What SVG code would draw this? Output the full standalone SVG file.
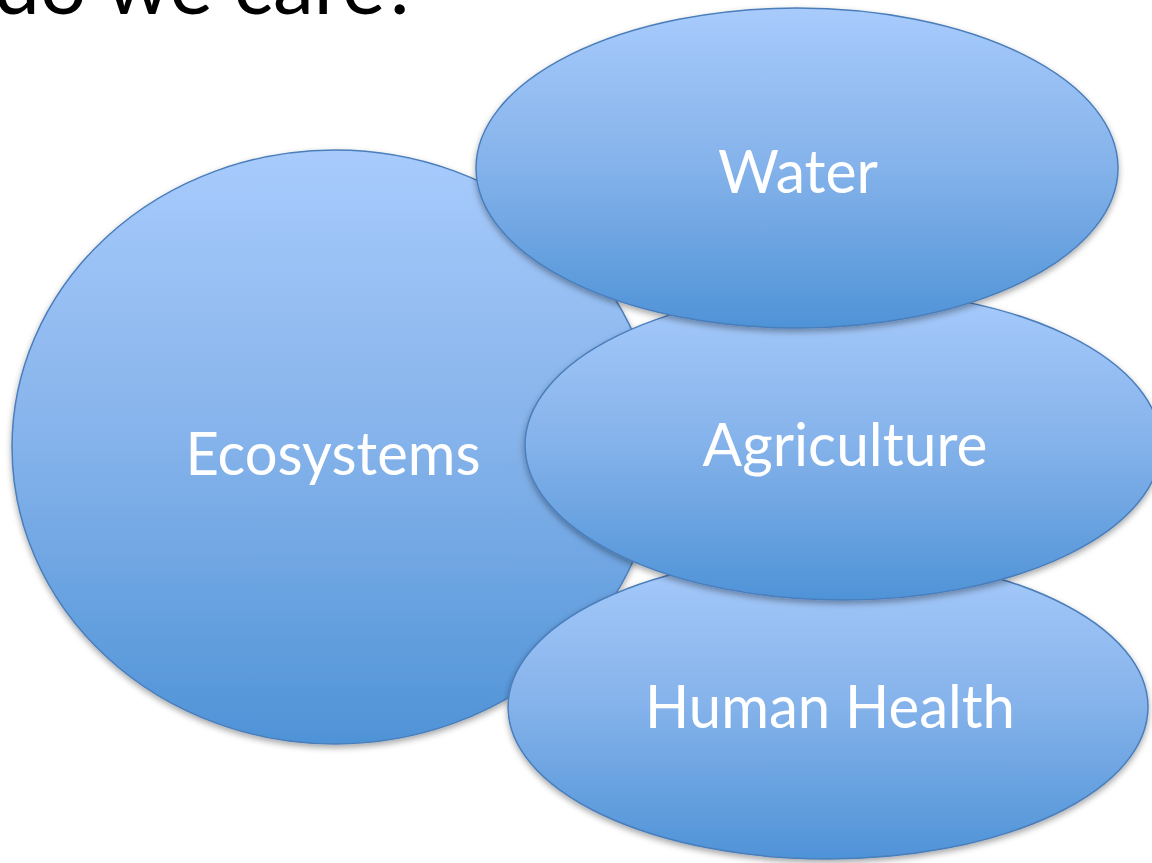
<svg xmlns="http://www.w3.org/2000/svg" width="1152" height="863" viewBox="0 0 1152 863">
<style>
.node{fill:url(#g);stroke:#4a7ebb;stroke-width:1.5;filter:url(#sh)}
.lbl{font-family:Lato,"Open Sans",sans-serif;fill:#ffffff;font-size:60px;text-anchor:middle}
.title{font-family:Lato,"Open Sans",sans-serif;fill:#000000;font-size:82px}
</style>
<defs>
<linearGradient id="g" x1="0" y1="0" x2="0" y2="1">
<stop offset="0" stop-color="#a8cbfc"/>
<stop offset="0.5" stop-color="#84b2ea"/>
<stop offset="1" stop-color="#4f93d7"/>
</linearGradient>
<filter id="sh" x="-10%" y="-10%" width="120%" height="125%">
<feDropShadow dx="0" dy="3" stdDeviation="3" flood-color="#000" flood-opacity="0.35"/>
</filter>
</defs>
<text class="title" x="-6" y="14">do we care?</text>
<g id="ecosystems">
<ellipse class="node" cx="335" cy="447" rx="323" ry="297"/>
<text class="lbl" x="333" y="475" textLength="295" lengthAdjust="spacingAndGlyphs">Ecosystems</text>
</g>
<g id="human-health">
<ellipse class="node" cx="828" cy="707" rx="320" ry="152"/>
<text class="lbl" x="830" y="728" textLength="370" lengthAdjust="spacingAndGlyphs">Human Health</text>
</g>
<g id="agriculture">
<ellipse class="node" cx="843" cy="445" rx="318" ry="155"/>
<text class="lbl" x="845" y="466" textLength="285" lengthAdjust="spacingAndGlyphs">Agriculture</text>
</g>
<g id="water">
<ellipse class="node" cx="797" cy="168" rx="321" ry="160"/>
<text class="lbl" x="798" y="193" textLength="160" lengthAdjust="spacingAndGlyphs">Water</text>
</g>
<g id="connectors"/>
</svg>
